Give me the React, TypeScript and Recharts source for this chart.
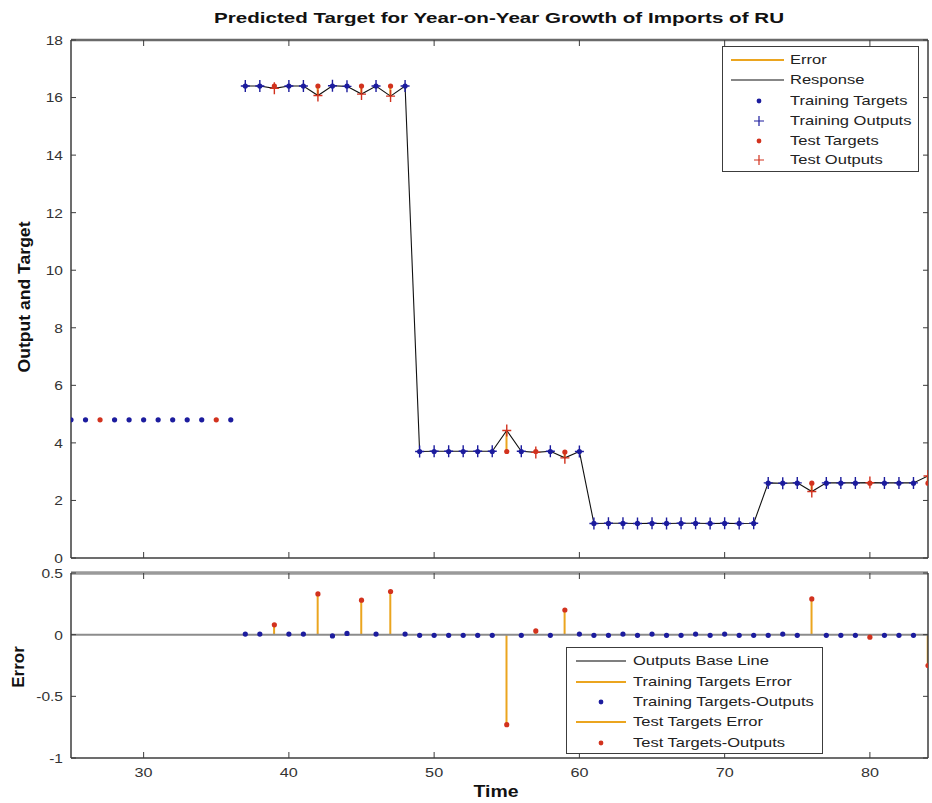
import React from 'react';
import { ComposedChart, Line, Bar, Scatter, XAxis, YAxis, ReferenceLine } from 'recharts';

const FONT = "'Liberation Sans', Arial, Helvetica, sans-serif";
const BLUE = '#1c1c9e';
const RED = '#d2321e';
const ORANGE = '#eba51f';
const SPINE = '#3c3c3c';

// ---------- data ----------
const time = [
  25, 26, 27, 28, 29, 30, 31, 32, 33, 34, 35, 36,
  37, 38, 39, 40, 41, 42, 43, 44, 45, 46, 47, 48,
  49, 50, 51, 52, 53, 54, 55, 56, 57, 58, 59, 60,
  61, 62, 63, 64, 65, 66, 67, 68, 69, 70, 71, 72,
  73, 74, 75, 76, 77, 78, 79, 80, 81, 82, 83, 84,
];
const targets = [
  4.8, 4.8, 4.8, 4.8, 4.8, 4.8, 4.8, 4.8, 4.8, 4.8, 4.8, 4.8,
  16.4, 16.4, 16.4, 16.4, 16.4, 16.4, 16.4, 16.4, 16.4, 16.4, 16.4, 16.4,
  3.7, 3.7, 3.7, 3.7, 3.7, 3.7, 3.7, 3.7, 3.7, 3.7, 3.68, 3.7,
  1.2, 1.2, 1.2, 1.2, 1.2, 1.2, 1.2, 1.2, 1.2, 1.2, 1.2, 1.2,
  2.6, 2.6, 2.6, 2.6, 2.6, 2.6, 2.6, 2.6, 2.6, 2.6, 2.6, 2.6,
];
const outputs: (number | null)[] = [
  null, null, null, null, null, null, null, null, null, null, null, null,
  16.4, 16.4, 16.32, 16.4, 16.4, 16.07, 16.41, 16.39, 16.12, 16.4, 16.05, 16.4,
  3.7, 3.71, 3.71, 3.71, 3.71, 3.71, 4.43, 3.71, 3.67, 3.71, 3.48, 3.7,
  1.2, 1.21, 1.21, 1.2, 1.21, 1.2, 1.21, 1.21, 1.2, 1.21, 1.2, 1.21,
  2.61, 2.6, 2.61, 2.31, 2.61, 2.61, 2.61, 2.62, 2.61, 2.61, 2.61, 2.85,
];
const errors: (number | null)[] = [
  null, null, null, null, null, null, null, null, null, null, null, null,
  0.005, 0.005, 0.08, 0.005, 0.005, 0.33, -0.01, 0.01, 0.28, 0.005, 0.35, 0.005,
  -0.005, -0.005, -0.005, -0.005, -0.005, -0.005, -0.73, -0.005, 0.03, -0.005, 0.2, 0.005,
  -0.005, -0.005, 0.005, -0.005, 0.005, -0.005, -0.005, 0.005, -0.005, 0.005, -0.005, -0.005,
  -0.005, 0.005, -0.005, 0.29, -0.005, -0.005, -0.005, -0.02, -0.005, -0.005, -0.005, -0.25,
];
const testTimes = [27, 35, 39, 42, 45, 47, 55, 57, 59, 76, 80, 84];
const xTicks = [30, 40, 50, 60, 70, 80];
const yTicksTop = [0, 2, 4, 6, 8, 10, 12, 14, 16, 18];
const yTicksBottom = [-1, -0.5, 0, 0.5];

const title = 'Predicted Target for Year-on-Year Growth of Imports of RU';
const topLegend = ['Error', 'Response', 'Training Targets', 'Training Outputs', 'Test Targets', 'Test Outputs'];
const bottomLegend = ['Outputs Base Line', 'Training Targets Error', 'Training Targets-Outputs', 'Test Targets Error', 'Test Targets-Outputs'];

// ---------- derived tables ----------
const isTest = (t: number) => testTimes.includes(t);
const rowsTop = time.map((t, i) => {
  const o = outputs[i];
  return {
    x: t,
    out: o,
    tgt: targets[i],
    err: o == null ? null : [Math.min(o, targets[i]), Math.max(o, targets[i])],
  };
});
const rowsBottom = time.map((t, i) => ({ x: t, e: errors[i] }));
const trainTargetPts = time.map((t, i) => ({ x: t, y: targets[i] })).filter((p) => !isTest(p.x));
const testTargetPts = time.map((t, i) => ({ x: t, y: targets[i] })).filter((p) => isTest(p.x));
const trainOutputPts = time.map((t, i) => ({ x: t, y: outputs[i] })).filter((p) => p.y != null && !isTest(p.x));
const testOutputPts = time.map((t, i) => ({ x: t, y: outputs[i] })).filter((p) => p.y != null && isTest(p.x));
const trainErrPts = time.map((t, i) => ({ x: t, y: errors[i] })).filter((p) => p.y != null && !isTest(p.x));
const testErrPts = time.map((t, i) => ({ x: t, y: errors[i] })).filter((p) => p.y != null && isTest(p.x));

// ---------- ticks & shapes ----------
const NoTick = () => <g />;
const XTick = (props: any) => {
  const { x, y, payload } = props;
  return (
    <g transform={`translate(${x} ${y}) scale(1.2 1)`}>
      <text x={0} y={0} dy="0.71em" textAnchor="middle" fontSize={13.5} fill="#333" fontFamily={FONT}>
        {payload.value}
      </text>
    </g>
  );
};
const YTick = (props: any) => {
  const { x, y, payload } = props;
  return (
    <g transform={`translate(${x} ${y}) scale(1.15 1)`}>
      <text x={0} y={0} dy="0.36em" textAnchor="end" fontSize={13.5} fill="#333" fontFamily={FONT}>
        {String(payload.value)}
      </text>
    </g>
  );
};
const dotShape = (color: string) => (p: any) => <circle cx={p.cx} cy={p.cy} r={2.6} fill={color} />;
const plusShape = (color: string) => (p: any) => (
  <path d={`M${p.cx - 4.5},${p.cy}h9M${p.cx},${p.cy - 6}v12`} stroke={color} strokeWidth={1.4} fill="none" />
);

// ---------- legend ----------
const LegendBox = ({ left, top, width, height, rows, lineFrom, lineTo, markerX, textX }: any) => (
  <div
    style={{
      position: 'absolute', left, top, width, height, background: '#fff',
      border: `1px solid ${SPINE}`, boxSizing: 'border-box', fontFamily: FONT,
    }}
  >
    {rows.map((r: any, i: number) => (
      <div key={i} style={{ position: 'absolute', left: 0, top: r.cy - 10, height: 20, width: '100%' }}>
        <svg width={textX} height={20} style={{ position: 'absolute', left: 0, top: 0 }}>
          {r.kind === 'line' && <line x1={lineFrom} x2={lineTo} y1={10} y2={10} stroke={r.color} strokeWidth={r.w || 1.2} />}
          {r.kind === 'dot' && <circle cx={markerX} cy={10} r={2.4} fill={r.color} />}
          {r.kind === 'plus' && (
            <path d={`M${markerX - 5},10h10M${markerX},5v10`} stroke={r.color} strokeWidth={1.2} fill="none" />
          )}
        </svg>
        <span
          style={{
            position: 'absolute', left: textX, top: 2, fontSize: 13, lineHeight: '16px', color: '#222',
            whiteSpace: 'nowrap', transform: 'scaleX(1.27)', transformOrigin: 'left center',
          }}
        >
          {r.label}
        </span>
      </div>
    ))}
  </div>
);

export default function App() {
  const axisLine = { stroke: SPINE, strokeWidth: 1.5 };
  return (
    <div style={{ position: 'absolute', left: 0, top: 0, width: 932, height: 803, background: '#fff', overflow: 'hidden' }}>
      {/* Top chart */}
      <div style={{ position: 'absolute', left: 0, top: 0 }}>
        <ComposedChart width={932} height={570} data={rowsTop} margin={{ top: 39, right: 3, bottom: 0, left: 0 }}>
          <XAxis dataKey="x" type="number" domain={[25, 84]} allowDataOverflow ticks={xTicks} tickSize={-6}
            tick={NoTick} height={12} axisLine={axisLine} tickLine={{ stroke: SPINE }} />
          <XAxis xAxisId="t" orientation="top" dataKey="x" type="number" domain={[25, 84]} allowDataOverflow ticks={xTicks}
            tickSize={-6} tick={NoTick} height={1} axisLine={{ stroke: '#6a6a6a', strokeWidth: 2.5 }} tickLine={{ stroke: SPINE }} />
          <YAxis type="number" domain={[0, 18]} ticks={yTicksTop} width={71} tickSize={-5} tickMargin={13}
            tick={YTick} axisLine={axisLine} tickLine={{ stroke: SPINE }} allowDataOverflow />
          <YAxis yAxisId="r" orientation="right" type="number" domain={[0, 18]} ticks={yTicksTop} width={1} tickSize={-5}
            tick={NoTick} axisLine={axisLine} tickLine={{ stroke: SPINE }} allowDataOverflow />
          <Line xAxisId="t" yAxisId="r" dataKey="tgt" stroke="none" dot={false} legendType="none" isAnimationActive={false} />
          <Bar dataKey="err" fill={ORANGE} barSize={2} isAnimationActive={false} />
          <Line dataKey="out" stroke="#111" strokeWidth={1.1} dot={false} connectNulls={false} isAnimationActive={false} />
          <Scatter data={trainTargetPts} dataKey="y" shape={dotShape(BLUE)} isAnimationActive={false} />
          <Scatter data={trainOutputPts} dataKey="y" shape={plusShape(BLUE)} isAnimationActive={false} />
          <Scatter data={testTargetPts} dataKey="y" shape={dotShape(RED)} isAnimationActive={false} />
          <Scatter data={testOutputPts} dataKey="y" shape={plusShape(RED)} isAnimationActive={false} />
        </ComposedChart>
      </div>

      {/* Bottom chart */}
      <div style={{ position: 'absolute', left: 0, top: 560 }}>
        <ComposedChart width={932} height={243} data={rowsBottom} margin={{ top: 12, right: 3, bottom: 0, left: 0 }}>
          <XAxis dataKey="x" type="number" domain={[25, 84]} allowDataOverflow ticks={xTicks} tickSize={-6} tickMargin={15}
            tick={XTick} height={45} axisLine={axisLine} tickLine={{ stroke: SPINE }} />
          <XAxis xAxisId="t" orientation="top" dataKey="x" type="number" domain={[25, 84]} allowDataOverflow ticks={xTicks}
            tickSize={-6} tick={NoTick} height={1} axisLine={{ stroke: '#9a9a9a', strokeWidth: 3.5 }} tickLine={{ stroke: SPINE }} />
          <YAxis type="number" domain={[-1, 0.5]} ticks={yTicksBottom} width={71} tickSize={-5} tickMargin={13}
            tick={YTick} axisLine={axisLine} tickLine={{ stroke: SPINE }} allowDataOverflow />
          <YAxis yAxisId="r" orientation="right" type="number" domain={[-1, 0.5]} ticks={yTicksBottom} width={1} tickSize={-5}
            tick={NoTick} axisLine={axisLine} tickLine={{ stroke: SPINE }} allowDataOverflow />
          <Line xAxisId="t" yAxisId="r" dataKey="e" stroke="none" dot={false} legendType="none" isAnimationActive={false} />
          <ReferenceLine y={0} stroke="#8c8c8c" strokeWidth={2} />
          <Bar dataKey="e" fill={ORANGE} barSize={2} isAnimationActive={false} />
          <Scatter data={trainErrPts} dataKey="y" shape={dotShape(BLUE)} isAnimationActive={false} />
          <Scatter data={testErrPts} dataKey="y" shape={dotShape(RED)} isAnimationActive={false} />
        </ComposedChart>
      </div>

      {/* Texts */}
      <svg width={932} height={803} style={{ position: 'absolute', left: 0, top: 0, pointerEvents: 'none' }}>
        <text x={499} y={23} textAnchor="middle" fontSize={15} fontWeight="bold" fontFamily={FONT} fill="#111"
          textLength={570} lengthAdjust="spacingAndGlyphs">{title}</text>
        <text transform="translate(30 297) rotate(-90)" textAnchor="middle" fontSize={16} fontWeight="bold"
          fontFamily={FONT} fill="#111" textLength={151} lengthAdjust="spacingAndGlyphs">Output and Target</text>
        <text transform="translate(24 667) rotate(-90)" textAnchor="middle" fontSize={17} fontWeight="bold"
          fontFamily={FONT} fill="#111">Error</text>
        <text x={496} y={797} textAnchor="middle" fontSize={16} fontWeight="bold" fontFamily={FONT} fill="#111"
          textLength={45} lengthAdjust="spacingAndGlyphs">Time</text>
      </svg>

      <LegendBox left={722} top={46} width={197} height={126} lineFrom={8} lineTo={61} markerX={36} textX={67}
        rows={[
          { kind: 'line', color: ORANGE, label: topLegend[0], cy: 13, w: 2 },
          { kind: 'line', color: '#111', label: topLegend[1], cy: 33 },
          { kind: 'dot', color: BLUE, label: topLegend[2], cy: 54 },
          { kind: 'plus', color: BLUE, label: topLegend[3], cy: 74 },
          { kind: 'dot', color: RED, label: topLegend[4], cy: 94 },
          { kind: 'plus', color: RED, label: topLegend[5], cy: 113 },
        ]} />
      <LegendBox left={566} top={647} width={257} height={107} lineFrom={9} lineTo={59} markerX={34} textX={66}
        rows={[
          { kind: 'line', color: '#555', label: bottomLegend[0], cy: 13, w: 1.5 },
          { kind: 'line', color: ORANGE, label: bottomLegend[1], cy: 34, w: 2 },
          { kind: 'dot', color: BLUE, label: bottomLegend[2], cy: 54 },
          { kind: 'line', color: ORANGE, label: bottomLegend[3], cy: 74, w: 2 },
          { kind: 'dot', color: RED, label: bottomLegend[4], cy: 95 },
        ]} />
    </div>
  );
}
